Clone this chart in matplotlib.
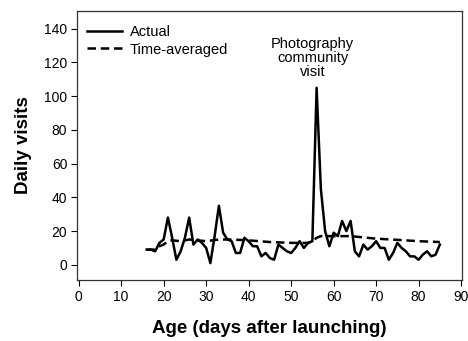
import matplotlib
matplotlib.use("Agg")
import matplotlib.pyplot as plt

plt.rcParams['font.family'] = ['Liberation Sans', 'DejaVu Sans']

# Daily visits (actual) by site age in days
days = list(range(16, 86))
actual = [9, 9, 8, 13, 15, 28, 16, 3, 8, 16,
          28, 12, 15, 13, 10, 1, 17, 35, 19, 15,
          14, 7, 7, 16, 14, 11, 11, 5, 7, 4,
          3, 12, 10, 8, 7, 10, 14, 10, 13, 14,
          105, 45, 20, 11, 19, 17, 26, 20, 26, 8,
          5, 12, 9, 11, 14, 10, 10, 3, 7, 13,
          10, 8, 5, 5, 3, 6, 8, 5, 6, 12]

# Time-averaged visits
avg_days = [16, 17, 18, 19, 20, 21, 22, 24, 26, 28, 30, 33, 36, 40, 45,
            50, 52, 54, 55, 56, 57, 60, 64, 66, 70, 75, 80, 85]
averaged = [9, 9, 9, 11, 12, 14, 14.5, 14, 15, 14.5, 14, 15, 15, 14.5, 13.5,
            13, 13, 13, 14, 16, 17, 17, 17, 16.5, 15.5, 14.8, 14, 13.5]

x_ticks = list(range(0, 91, 10))
y_ticks = list(range(0, 141, 20))

fig = plt.figure(figsize=(4.68, 3.41), dpi=100)
ax = fig.add_axes([0.1645, 0.179, 0.8225, 0.789])

ax.plot(days, actual, color='black', lw=1.8, label='Actual')
ax.plot(avg_days, averaged, color='black', lw=1.8, dashes=(3.4, 1.9),
        label='Time-averaged')

ax.set_xlim(-0.4, 90.2)
ax.set_ylim(-9, 150.6)
ax.set_xticks(x_ticks)
ax.set_yticks(y_ticks)
ax.tick_params(direction='out', length=4, width=0.8, labelsize=10,
               colors='black', pad=3)
for s in ax.spines.values():
    s.set_linewidth(0.9)
    s.set_color('#333333')

ax.set_xlabel('Age (days after launching)', fontsize=13.5, fontweight='bold',
              labelpad=12)
ax.set_ylabel('Daily visits', fontsize=13.5, fontweight='bold', labelpad=9)

ax.text(55.1, 110, 'Photography\ncommunity\nvisit', ha='center', va='bottom',
        fontsize=10.5, linespacing=1.0)

ax.legend(loc='upper left', bbox_to_anchor=(-0.008, 0.995), frameon=False,
          fontsize=10.5, handlelength=2.4, handletextpad=0.55,
          labelspacing=0.22, borderaxespad=0.5)

fig.savefig('out.png', dpi=100)
